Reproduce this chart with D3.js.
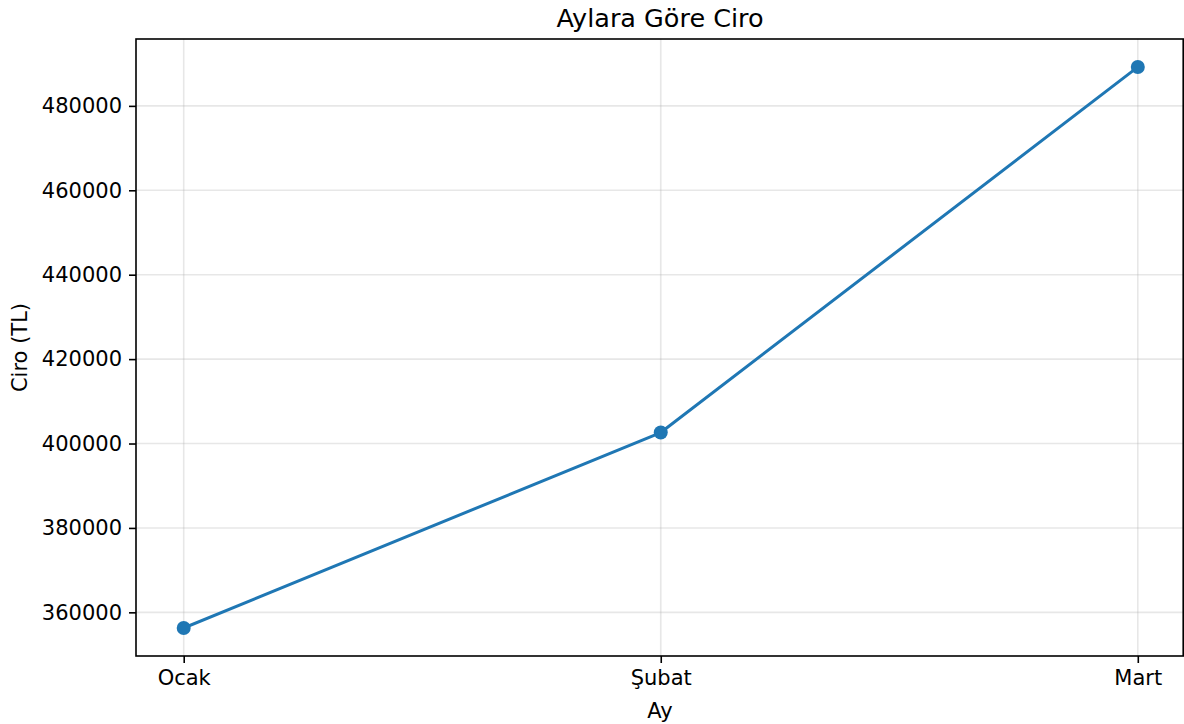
<!DOCTYPE html>
<html><head><meta charset="utf-8">
<script src="https://cdn.jsdelivr.net/npm/d3@7"></script>
<style>body{margin:0;background:#fff}svg{display:block;font-family:"DejaVu Sans",sans-serif}</style>
</head><body><svg id="c" width="1184" height="724"></svg>
<script>
const months = ["Ocak", "Şubat", "Mart"];
const revenue = [356300, 402600, 489200];
const yTicks = [360000, 380000, 400000, 420000, 440000, 460000, 480000];

const W = 1184, H = 724;
const m = {left: 136, right: 1184, top: 39, bottom: 656};
const svg = d3.select("#c");

const x = d3.scaleLinear().domain([-0.1, 2.1]).range([m.left, 1185.5]);
const ymin = d3.min(revenue), ymax = d3.max(revenue), pad = (ymax - ymin) * 0.05;
const y = d3.scaleLinear().domain([ymin - pad, ymax + pad]).range([m.bottom, m.top]);

const g = svg.append("g");
// grid
g.selectAll(".gy").data(yTicks).join("line")
  .attr("x1", m.left).attr("x2", W).attr("y1", d => y(d)).attr("y2", d => y(d))
  .attr("stroke", "#b0b0b0").attr("stroke-opacity", 0.3).attr("stroke-width", 1.6);
g.selectAll(".gx").data(months).join("line")
  .attr("x1", (d, i) => x(i)).attr("x2", (d, i) => x(i)).attr("y1", m.top).attr("y2", m.bottom)
  .attr("stroke", "#b0b0b0").attr("stroke-opacity", 0.3).attr("stroke-width", 1.6);

// line
const line = d3.line().x((d, i) => x(i)).y(d => y(d));
svg.append("path").datum(revenue).attr("d", line).attr("fill", "none")
  .attr("stroke", "#1f77b4").attr("stroke-width", 3).attr("stroke-linejoin", "round").attr("stroke-linecap", "square");
svg.selectAll(".pt").data(revenue).join("circle")
  .attr("cx", (d, i) => x(i)).attr("cy", d => y(d)).attr("r", 7).attr("fill", "#1f77b4");

// axes
const yAxis = d3.axisLeft(y).tickValues(yTicks).tickFormat(d3.format("d")).tickSizeOuter(0).tickSize(7).tickPadding(7);
const ya = svg.append("g").attr("transform", `translate(${m.left},0)`).call(yAxis);
const xAxis = d3.axisBottom(x).tickValues([0, 1, 2]).tickFormat(i => months[i]).tickSizeOuter(0).tickSize(7).tickPadding(7);
const xa = svg.append("g").attr("transform", `translate(0,${m.bottom})`).call(xAxis);
[ya, xa].forEach(a => {
  a.select(".domain").remove();
  a.selectAll("line").attr("stroke", "#000").attr("stroke-width", 1.6);
  a.selectAll("text").attr("font-size", 21).attr("fill", "#000").attr("font-family", "DejaVu Sans");
});

// frame
svg.append("rect").attr("x", m.left).attr("y", m.top).attr("width", 1183.2 - m.left).attr("height", m.bottom - m.top)
  .attr("fill", "none").attr("stroke", "#000").attr("stroke-width", 1.6);

svg.append("text").attr("x", (m.left + 1184) / 2).attr("y", 27).attr("text-anchor", "middle")
  .attr("font-size", 25.5).text("Aylara Göre Ciro");
svg.append("text").attr("x", (m.left + 1184) / 2).attr("y", 718).attr("text-anchor", "middle")
  .attr("font-size", 21).text("Ay");
svg.append("text").attr("transform", `translate(27,${(m.top + m.bottom) / 2}) rotate(-90)`).attr("text-anchor", "middle")
  .attr("font-size", 21).text("Ciro (TL)");
</script></body></html>
